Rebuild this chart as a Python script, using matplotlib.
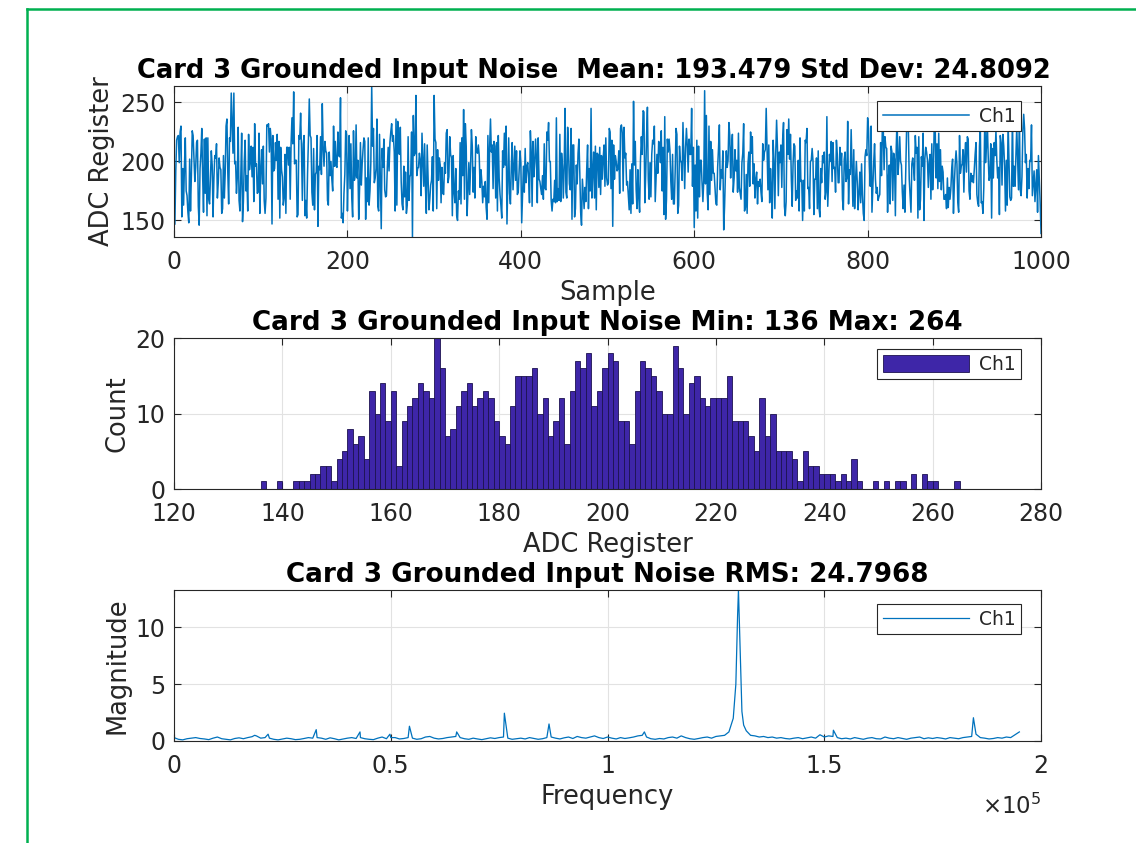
import numpy as np
import matplotlib
matplotlib.use('Agg')
import matplotlib.pyplot as plt
from matplotlib.lines import Line2D

# histogram: one bin per ADC code
adc_codes = list(range(136, 265))
counts = [1, 0, 0, 1, 0, 0, 1, 1, 1, 2,
          2, 3, 3, 1, 4, 5, 8, 6, 7, 4,
          13, 10, 14, 9, 13, 3, 9, 11, 12, 14,
          13, 12, 20, 16, 7, 8, 11, 13, 14, 11,
          12, 13, 12, 9, 7, 6, 11, 15, 15, 15,
          16, 10, 12, 7, 9, 12, 6, 13, 17, 16,
          18, 11, 13, 16, 18, 17, 9, 9, 6, 13,
          17, 16, 15, 13, 10, 10, 19, 16, 10, 14,
          15, 12, 11, 12, 12, 12, 15, 9, 9, 9,
          7, 5, 12, 7, 10, 5, 5, 5, 4, 1,
          5, 3, 3, 2, 2, 2, 1, 2, 1, 4,
          1, 0, 0, 1, 0, 1, 0, 1, 1, 0,
          2, 0, 2, 1, 1, 0, 0, 0, 1]

# the spikes that can be located in the top panel (sample, value)
spike_sample = [227, 611, 137, 65, 68, 299, 278, 191, 155, 529, 170, 545, 682, 480,
                274, 999, 633, 238, 599, 165, 505, 28, 469, 383]
spike_value = [264, 260, 259, 258, 258, 256, 256, 254, 253, 251, 249, 246, 245, 245,
               136, 139, 142, 143, 144, 145, 145, 146, 146, 147]

# spectrum, magnitude on a 1 kHz grid plus the narrow peaks
base_khz = list(range(0, 196))
base_mag = [0.30, 0.15, 0.10, 0.20, 0.25, 0.30, 0.22, 0.18, 0.12, 0.25,
            0.35, 0.20, 0.15, 0.10, 0.22, 0.28, 0.20, 0.30, 0.38, 0.45,
            0.25, 0.30, 0.25, 0.15, 0.10, 0.18, 0.25, 0.20, 0.12, 0.15,
            0.22, 0.30, 0.25, 0.30, 0.25, 0.15, 0.28, 0.20, 0.10, 0.18,
            0.25, 0.30, 0.22, 0.30, 0.20, 0.15, 0.12, 0.25, 0.35, 0.20,
            0.30, 0.30, 0.18, 0.22, 0.30, 0.25, 0.15, 0.20, 0.35, 0.40,
            0.25, 0.18, 0.22, 0.30, 0.35, 0.40, 0.30, 0.20, 0.15, 0.25,
            0.18, 0.12, 0.20, 0.28, 0.22, 0.30, 0.35, 0.25, 0.15, 0.20,
            0.25, 0.18, 0.30, 0.22, 0.15, 0.20, 0.30, 0.35, 0.25, 0.18,
            0.28, 0.35, 0.22, 0.40, 0.30, 0.25, 0.35, 0.45, 0.30, 0.22,
            0.35, 0.25, 0.18, 0.30, 0.22, 0.28, 0.35, 0.45, 0.50, 0.35,
            0.20, 0.15, 0.22, 0.18, 0.30, 0.35, 0.25, 0.45, 0.30, 0.20,
            0.15, 0.22, 0.30, 0.35, 0.25, 0.40, 0.45, 0.50, 0.80, 2.00,
            11.0, 2.60, 0.90, 0.50, 0.45, 0.35, 0.40, 0.30, 0.35, 0.25,
            0.30, 0.22, 0.18, 0.25, 0.30, 0.20, 0.28, 0.35, 0.25, 0.55,
            0.35, 0.45, 0.40, 0.30, 0.20, 0.25, 0.18, 0.30, 0.22, 0.15,
            0.25, 0.30, 0.20, 0.18, 0.35, 0.25, 0.20, 0.30, 0.22, 0.15,
            0.25, 0.30, 0.35, 0.20, 0.28, 0.22, 0.30, 0.25, 0.18, 0.30,
            0.25, 0.20, 0.30, 0.35, 0.40, 0.60, 0.30, 0.25, 0.18, 0.22,
            0.30, 0.25, 0.35, 0.30, 0.55, 0.80]
peak_khz = [18.6, 21.7, 32.8, 42.9, 49.8, 54.3, 65.2, 76.2, 86.5, 108.5,
            129.6, 130.2, 130.6, 131.4, 152.1, 184.4]
peak_mag = [0.5, 0.6, 1.0, 0.8, 0.6, 1.3, 0.8, 2.45, 1.5, 0.8,
            5.0, 13.3, 8.0, 1.4, 0.95, 2.05]

title_main = 'Card 3 Grounded Input Noise'
mean_txt = '193.479'
std_txt = '24.8092'
rms_txt = '24.7968'

LINE = '#0072BD'
BAR = '#3E26A8'
TXT = '#262626'
GRID = '#E2E2E2'


def main():
    # sample values are the histogram contents; the order they came in is
    # not readable, so interleave them with a fixed cubic hash of the index
    pool = list(np.repeat(adc_codes, counts))
    for v in spike_value:
        pool.remove(v)
    keys = [(2971 * j ** 3 + 7229 * j + 17) % 100003 for j in range(len(pool))]
    rest = np.array(pool)[np.argsort(keys, kind='stable')]
    samples = np.zeros(1000)
    fixed = np.zeros(1000, dtype=bool)
    samples[spike_sample] = spike_value
    fixed[spike_sample] = True
    samples[~fixed] = rest
    sample_no = np.arange(1, 1001)

    freq = np.array(base_khz + peak_khz, dtype=float)
    mag = np.array(base_mag + peak_mag)
    o = np.argsort(freq)
    freq, mag = freq[o] * 1e3, mag[o]

    plt.rcParams['font.family'] = 'DejaVu Sans'
    fig = plt.figure(figsize=(11.36, 8.43), dpi=100)
    fig.patch.set_facecolor('white')

    left, width, height = 0.1532, 0.7632, 0.1791
    ax1 = fig.add_axes([left, 0.7189, width, height])
    ax2 = fig.add_axes([left, 0.4199, width, height])
    ax3 = fig.add_axes([left, 0.1210, width, height])

    ax1.plot(sample_no, samples, color=LINE, lw=1.1, label='Ch1')
    ax1.set_xlim(0, 1000)
    ax1.set_ylim(136, 264)
    ax1.set_yticks([150, 200, 250])
    ax1.set_xticks([0, 200, 400, 600, 800, 1000])
    ax1.set_xlabel('Sample')
    ax1.set_ylabel('ADC Register')
    ax1.set_title(f'{title_main}  Mean: {mean_txt} Std Dev: {std_txt}', x=0.484,
                  fontsize=18.5, fontweight='bold')

    ax2.bar(adc_codes, counts, width=1, align='edge', color=BAR,
            edgecolor='#1C1250', lw=0.6, label='Ch1')
    ax2.set_xlim(120, 280)
    ax2.set_ylim(0, 20)
    ax2.set_yticks([0, 10, 20])
    ax2.set_xticks(range(120, 281, 20))
    ax2.set_xlabel('ADC Register')
    ax2.set_ylabel('Count')
    ax2.set_title(f'{title_main} Min: {min(adc_codes)} Max: {max(adc_codes)}',
                  fontsize=18.9, fontweight='bold')

    ax3.plot(freq, mag, color=LINE, lw=0.9, label='Ch1')
    ax3.set_xlim(0, 2e5)
    ax3.set_ylim(0, max(mag))
    ax3.set_yticks([0, 5, 10])
    ax3.set_xticks([0, 0.5e5, 1e5, 1.5e5, 2e5])
    ax3.set_xticklabels(['0', '0.5', '1', '1.5', '2'])
    ax3.set_xlabel('Frequency')
    ax3.set_ylabel('Magnitude')
    ax3.set_title(f'{title_main} RMS: {rms_txt}', fontsize=18.9, fontweight='bold')
    ax3.text(1.0, -0.35, r'$\times10^{5}$', transform=ax3.transAxes,
             ha='right', va='top', fontsize=16.5, color=TXT)

    leg_top = {ax1: 0.90, ax2: 0.927, ax3: 0.907}
    for ax in (ax1, ax2, ax3):
        ax.grid(True, color=GRID, lw=0.8)
        ax.set_axisbelow(True)
        ax.tick_params(direction='in', top=True, right=True, length=5,
                       labelsize=17, colors=TXT, width=0.8)
        ax.tick_params(axis='x', pad=9.5)
        ax.tick_params(axis='y', pad=6)
        for s in ax.spines.values():
            s.set_color(TXT)
            s.set_linewidth(0.8)
        ax.xaxis.label.set_size(18.5)
        ax.yaxis.label.set_size(18.5)
        ax.xaxis.label.set_color(TXT)
        ax.yaxis.label.set_color(TXT)
        ax.xaxis.labelpad = 4
        ax.title.set_color('black')
        hh = 1.0 if ax is ax2 else 0.7
        leg = ax.legend(loc='upper right', bbox_to_anchor=(0.977, leg_top[ax]),
                        borderaxespad=0, fontsize=13.5, handlelength=4.6,
                        handleheight=hh, handletextpad=0.5, borderpad=0.3,
                        fancybox=False, framealpha=1)
        leg.get_frame().set_edgecolor(TXT)
        leg.get_frame().set_linewidth(0.8)
        for t in leg.get_texts():
            t.set_color(TXT)

    # green frame
    fig.add_artist(Line2D([27 / 1136, 27 / 1136], [0, 1 - 9 / 843],
                          transform=fig.transFigure, color='#00B050', lw=1.8))
    fig.add_artist(Line2D([27 / 1136, 1], [1 - 9 / 843, 1 - 9 / 843],
                          transform=fig.transFigure, color='#00B050', lw=1.8))

    plt.savefig('out.png', dpi=100)
    plt.close()


if __name__ == '__main__':
    main()
